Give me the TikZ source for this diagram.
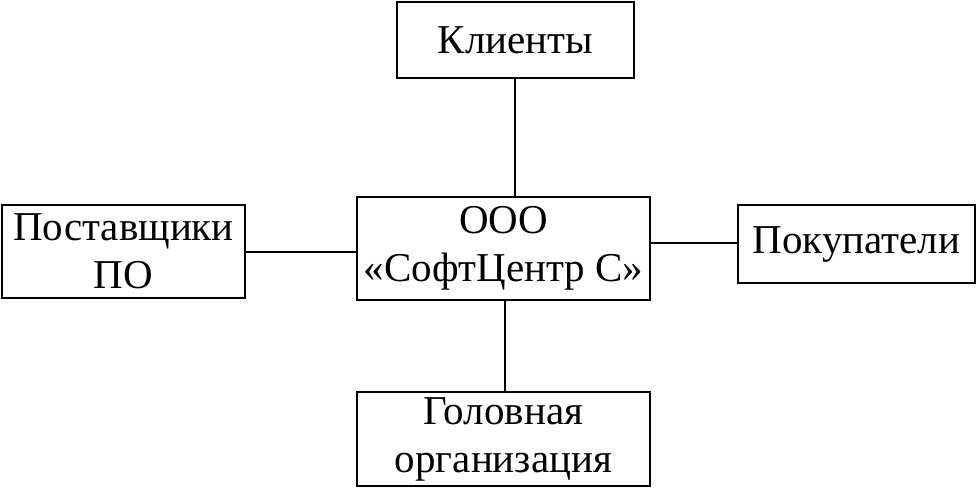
\documentclass[tikz,border=0pt]{standalone}
\usepackage{fontspec}
\setmainfont{Liberation Serif}
\tikzset{org/.style={draw, rectangle, line width=1.2pt, inner sep=0pt, align=center, font=\fontsize{41}{48}\selectfont}}
\begin{document}
\begin{tikzpicture}[x=1pt,y=-1pt]
  \useasboundingbox (0,0) rectangle (978,488);
  \node (clients)[org, minimum width=237pt, minimum height=76pt] at (515.5,40) {Клиенты};
  \node (center)[org, minimum width=293pt, minimum height=103pt] at (503.5,248.5) {ООО\\«СофтЦентр С»};
  \node (supply)[org, minimum width=243pt, minimum height=93pt] at (123.5,251.5) {Поставщики\\ПО};
  \node (buyers)[org, minimum width=237pt, minimum height=78pt] at (856.5,244) {Покупатели};
  \node (head)[org, minimum width=293pt, minimum height=94pt] at (503.5,439) {Головная\\организация};
  \draw [line width=1.2pt](clients.south -| 515,0)--(center.north -| 515,0);
  \draw [line width=1.2pt](supply.east |- 0,252)--(center.west |- 0,252);
  \draw [line width=2.2pt](center.east |- 0,243)--(buyers.west |- 0,243);
  \draw [line width=1.2pt](center.south -| 505,0)--(head.north -| 505,0);
\end{tikzpicture}
\end{document}
